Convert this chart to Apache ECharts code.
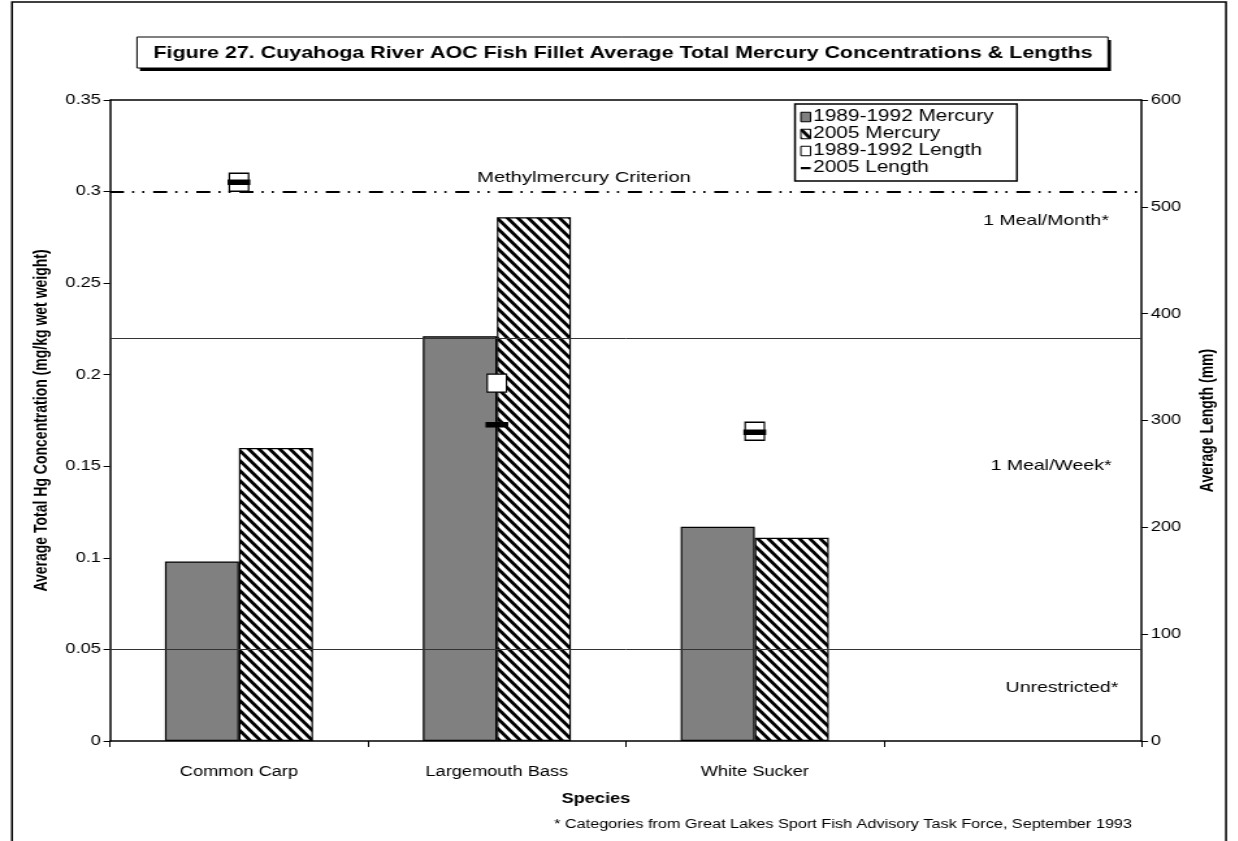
<!DOCTYPE html>
<html>
<head>
<meta charset="utf-8">
<script src="https://cdn.jsdelivr.net/npm/echarts@6/dist/echarts.min.js"></script>
<style>
html,body{margin:0;padding:0;background:#fff;overflow:hidden;width:1238px;height:841px;}
#chart{width:952px;height:841px;transform:scaleX(1.3);transform-origin:0 0;}
</style>
</head>
<body>
<div id="chart"></div>
<script>
// ---- data ----
const categories = ['Common Carp', 'Largemouth Bass', 'White Sucker', ''];
const mercury1989 = [0.098, 0.221, 0.117, null];
const mercury2005 = [0.160, 0.286, 0.111, null];
const length1989 = [523, 335, 290, null];
const length2005 = [523, 296, 289, null];
const hgTicks = { min: 0, max: 0.35, interval: 0.05 };
const lenTicks = { min: 0, max: 600, interval: 100 };
const criterion = 0.3;
const mealMonthLine = 0.221;
const unrestrictedLine = 0.052;

const FONT = '"Liberation Sans", Arial, sans-serif';
const S = 1.3;                 // horizontal stretch of the page
const X = px => px / S;        // page x -> chart x

// hatch pattern for 2005 bars
function makeHatch() {
  const W = 8, H = 10;
  const c = document.createElement('canvas');
  c.width = W; c.height = H;
  const g = c.getContext('2d');
  g.fillStyle = '#fff';
  g.fillRect(0, 0, W, H);
  g.strokeStyle = '#000';
  g.lineWidth = 2.9;
  g.beginPath();
  for (let k = -1; k <= 1; k++) {
    g.moveTo(k * W - W * 0.2, -H * 0.2);
    g.lineTo(k * W + W * 1.2, H * 1.2);
  }
  g.stroke();
  return c;
}
const hatch = { image: makeHatch(), repeat: 'repeat' };

const chart = echarts.init(document.getElementById('chart'), null, { renderer: 'canvas' });

const option = {
  backgroundColor: '#fff',
  animation: false,
  textStyle: { fontFamily: FONT, color: '#000' },
  grid: { left: X(110), right: X(1238 - 1142), top: 100, bottom: 100, show: false },
  legend: {
    orient: 'vertical',
    left: X(795), top: 104,
    padding: [5, 18, 5, 4],
    itemGap: 1,
    itemWidth: 7.5, itemHeight: 9.5,
    backgroundColor: '#fff',
    borderColor: '#000', borderWidth: 1.5,
    textStyle: { fontFamily: FONT, fontSize: 16, lineHeight: 16, color: '#000', padding: [0, 0, 0, -3] },
    data: [
      { name: '1989-1992 Mercury', icon: 'rect', itemStyle: { color: '#808080', borderColor: '#000', borderWidth: 1 } },
      { name: '2005 Mercury', icon: 'rect', itemStyle: { color: hatch, borderColor: '#000', borderWidth: 1 } },
      { name: '1989-1992 Length', icon: 'rect', itemStyle: { color: '#fff', borderColor: '#000', borderWidth: 1 } },
      { name: '2005 Length', icon: 'path://M0,0 L10,0 L10,0 Z M0,4 L10,4 L10,7.2 L0,7.2 Z M0,11 L10,11 L10,11 Z', itemStyle: { color: '#000', borderWidth: 0 } }
    ]
  },
  xAxis: {
    type: 'category',
    data: categories,
    boundaryGap: true,
    name: 'Species',
    nameLocation: 'middle',
    nameGap: 51,
    nameTextStyle: { fontFamily: FONT, fontSize: 14, fontWeight: 'bold', color: '#000', padding: [0, 46, 0, 0] },
    axisLine: { lineStyle: { color: '#000', width: 1.5 } },
    axisTick: { show: true, interval: 0, length: 6, lineStyle: { color: '#000', width: 1 } },
    axisLabel: { fontFamily: FONT, fontSize: 14, color: '#000', margin: 24, interval: 0 }
  },
  yAxis: [
    {
      type: 'value',
      min: hgTicks.min, max: hgTicks.max, interval: hgTicks.interval,
      name: 'Average Total Hg Concentration (mg/kg wet weight)',
      nameLocation: 'middle',
      nameGap: 44,
      nameTextStyle: { fontFamily: FONT, fontSize: 14, fontWeight: 'bold', color: '#000' },
      axisLine: { show: true, lineStyle: { color: '#000', width: 1.5 } },
      axisTick: { show: true, length: 5, lineStyle: { color: '#000', width: 1 } },
      axisLabel: { fontFamily: FONT, fontSize: 14, color: '#000', margin: 7 },
      splitLine: { show: false }
    },
    {
      type: 'value',
      position: 'right',
      min: lenTicks.min, max: lenTicks.max, interval: lenTicks.interval,
      name: 'Average Length (mm)',
      nameLocation: 'middle',
      nameGap: 44,
      nameRotate: 90,
      nameTextStyle: { fontFamily: FONT, fontSize: 14, fontWeight: 'bold', color: '#000' },
      axisLine: { show: true, lineStyle: { color: '#000', width: 1.5 } },
      axisTick: { show: true, length: 5, lineStyle: { color: '#000', width: 1 } },
      axisLabel: { fontFamily: FONT, fontSize: 14, color: '#000', margin: 7 },
      splitLine: { show: false }
    }
  ],
  series: [
    {
      name: '1989-1992 Mercury',
      type: 'bar',
      data: mercury1989,
      barGap: '0%',
      barCategoryGap: '42.6%',
      itemStyle: { color: '#808080', borderColor: '#000', borderWidth: 1.2 },
      z: 2
    },
    {
      name: '2005 Mercury',
      type: 'bar',
      data: mercury2005,
      itemStyle: { color: hatch, borderColor: '#000', borderWidth: 1.2 },
      z: 2
    },
    {
      name: 'guides',
      type: 'line',
      data: [],
      z: 4,
      silent: true,
      markLine: {
        silent: true,
        symbol: ['none', 'none'],
        label: { show: false },
        data: [
          { yAxis: criterion, lineStyle: { color: '#000', width: 2, type: [10.8, 6.2, 1.6, 6.2, 1.6, 6.8] } },
          { yAxis: mealMonthLine, lineStyle: { color: '#333', width: 1, type: 'solid' } },
          { yAxis: unrestrictedLine, lineStyle: { color: '#333', width: 1, type: 'solid' } }
        ]
      }
    },
    {
      name: '1989-1992 Length',
      type: 'scatter',
      yAxisIndex: 1,
      data: length1989,
      symbol: 'rect',
      symbolSize: [14.8, 18],
      itemStyle: { color: '#fff', borderColor: '#000', borderWidth: 1.3, opacity: 1 },
      z: 5
    },
    {
      name: '2005 Length',
      type: 'scatter',
      yAxisIndex: 1,
      data: length2005,
      symbol: 'rect',
      symbolSize: [17.5, 5.5],
      itemStyle: { color: '#000', opacity: 1 },
      z: 6
    }
  ],
  graphic: [
    // outer frame
    { type: 'rect', shape: { x: X(12), y: 2, width: X(1214), height: 860 }, style: { fill: 'none', stroke: '#000', lineWidth: 1.5 }, z: 0, silent: true },
    // plot area top edge
    { type: 'line', shape: { x1: X(110), y1: 100, x2: X(1142), y2: 100 }, style: { stroke: '#000', lineWidth: 1.5 }, z: 3, silent: true },
    // title box with shadow
    { type: 'rect', shape: { x: X(140), y: 40, width: X(971), height: 31 }, style: { fill: '#000' }, z: 10, silent: true },
    { type: 'rect', shape: { x: X(137), y: 37, width: X(971), height: 31 }, style: { fill: '#fff', stroke: '#000', lineWidth: 1 }, z: 11, silent: true },
    { type: 'text', x: X(623), y: 53, style: { text: 'Figure 27. Cuyahoga River AOC Fish Fillet Average Total Mercury Concentrations & Lengths', font: 'bold 16.5px ' + FONT, fill: '#000', align: 'center', verticalAlign: 'middle' }, z: 12, silent: true },
    // annotations
    { type: 'text', x: X(584), y: 178, style: { text: 'Methylmercury Criterion', font: '15.5px ' + FONT, fill: '#000', align: 'center', verticalAlign: 'middle' }, z: 12, silent: true },
    { type: 'text', x: X(1046), y: 221, style: { text: '1 Meal/Month*', font: '15px ' + FONT, fill: '#000', align: 'center', verticalAlign: 'middle' }, z: 12, silent: true },
    { type: 'text', x: X(1051), y: 466, style: { text: '1 Meal/Week*', font: '15px ' + FONT, fill: '#000', align: 'center', verticalAlign: 'middle' }, z: 12, silent: true },
    { type: 'text', x: X(1062), y: 688, style: { text: 'Unrestricted*', font: '15px ' + FONT, fill: '#000', align: 'center', verticalAlign: 'middle' }, z: 12, silent: true },
    { type: 'text', x: X(1132), y: 825, style: { text: '* Categories from Great Lakes Sport Fish Advisory Task Force, September 1993', font: '12.5px ' + FONT, fill: '#000', align: 'right', verticalAlign: 'middle' }, z: 12, silent: true }
  ]
};

chart.setOption(option);
</script>
</body>
</html>
